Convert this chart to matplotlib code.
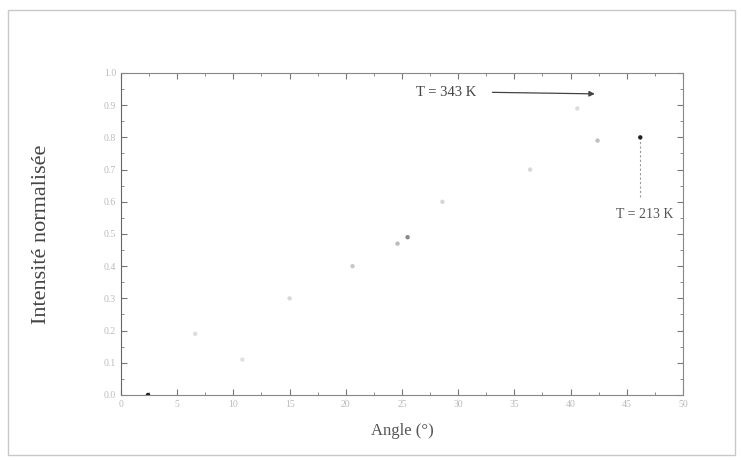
import numpy as np
import matplotlib as mpl
import matplotlib.pyplot as plt
from matplotlib.patches import Rectangle
from matplotlib.ticker import MultipleLocator

mpl.rcParams['font.family'] = ['Liberation Serif', 'DejaVu Serif']

angle = [2.4, 6.6, 10.8, 15.0, 20.6, 24.6, 25.5, 28.6, 36.4, 40.6, 42.4, 46.2]
intens = [0.0, 0.19, 0.11, 0.30, 0.40, 0.47, 0.49, 0.60, 0.70, 0.89, 0.79, 0.80]
shade = ['#222222', '#dddddd', '#e0e0e0', '#d8d8d8', '#c8c8c8', '#bbbbbb',
         '#888888', '#d5d5d5', '#d8d8d8', '#dcdcdc', '#c0c0c0', '#222222']

xticks = np.arange(0, 51, 5)
yticks = np.round(np.arange(0, 1.01, 0.1), 1)

fig = plt.figure(figsize=(7.41, 4.61), dpi=100)
ax = fig.add_axes([0.1633, 0.1432, 0.7584, 0.6985])

# outer scan frame
fig.patches.append(Rectangle((0.011, 0.012), 0.981, 0.967, transform=fig.transFigure,
                             fill=False, edgecolor='#c8c8c8', linewidth=1.0))

ax.scatter(angle, intens, s=10, c=shade, edgecolors='none', zorder=3)

# annotations
ax.plot([46.2, 46.2], [0.80, 0.61], ls=(0, (2, 2)), color='#999999', lw=0.8)
ax.text(46.6, 0.56, 'T = 213 K', ha='center', va='center', fontsize=10, color='#555555')
ax.annotate('', xy=(42.4, 0.935), xytext=(32.8, 0.94),
            arrowprops=dict(arrowstyle='-|>', color='#444444', lw=0.9,
                            mutation_scale=8))
ax.text(31.6, 0.94, 'T = 343 K', ha='right', va='center', fontsize=10.5, color='#444444')

ax.set_xlim(0, 50)
ax.set_ylim(0, 1.0)
ax.set_xticks(xticks)
ax.set_yticks(yticks)
ax.set_xticklabels([str(v) for v in xticks])
ax.set_yticklabels(['%.1f' % v for v in yticks])
ax.xaxis.set_minor_locator(MultipleLocator(2.5))
ax.yaxis.set_minor_locator(MultipleLocator(0.05))
ax.tick_params(which='both', direction='in', top=True, right=True,
               color='#777777', labelcolor='#bbbbbb', labelsize=7)
ax.tick_params(which='major', length=4)
ax.tick_params(which='minor', length=2)
for s in ax.spines.values():
    s.set_color('#888888')
    s.set_linewidth(0.8)
ax.spines['left'].set_color('#666666')

ax.set_xlabel('Angle (°)', fontsize=12, color='#555555', labelpad=10)
ax.set_ylabel('Intensité normalisée', fontsize=16, color='#444444', labelpad=38)

plt.savefig('out.png', dpi=100)
